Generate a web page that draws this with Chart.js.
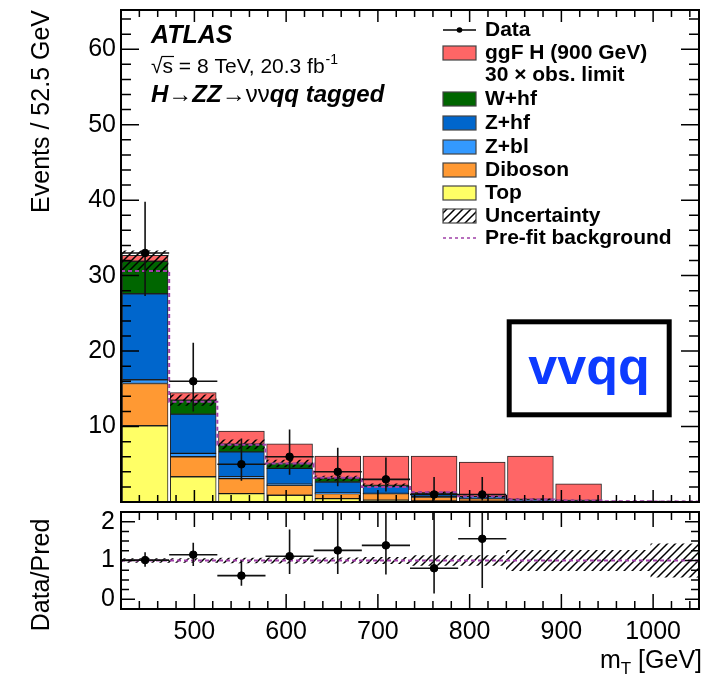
<!DOCTYPE html>
<html>
<head>
<meta charset="utf-8">
<script src="https://cdn.jsdelivr.net/npm/chart.js@4.4.0/dist/chart.umd.min.js"></script>
<style>
  html, body { margin: 0; padding: 0; background: #fff; }
  #wrap { position: relative; width: 704px; height: 677px; }
  #main { position: absolute; left: 0; top: 0; }
  #ratio { position: absolute; left: 0; top: 507px; }
</style>
</head>
<body>
<div id="wrap">
  <canvas id="main" width="704" height="507"></canvas>
  <canvas id="ratio" width="704" height="170"></canvas>
</div>
<script>
// values (12 bins of 52.5 GeV)
const binEdges   = [420, 472.5, 525, 577.5, 630, 682.5, 735, 787.5, 840, 892.5, 945, 997.5, 1050];
const topBkg     = [10.1, 3.35, 1.1, 0.9, 0.45, 0.25, 0.15, 0.1, 0.05, 0.03, 0.02, 0.02];
const dibosonBkg = [5.6, 2.65, 2.0, 1.3, 0.65, 0.85, 0.5, 0.35, 0.15, 0.1, 0.05, 0.03];
const zblBkg     = [0.5, 0.45, 0.25, 0.15, 0.1, 0.05, 0.05, 0.02, 0.02, 0.01, 0.01, 0.01];
const zhfBkg     = [11.4, 5.2, 3.3, 2.1, 1.45, 0.95, 0.45, 0.2, 0.1, 0.05, 0.02, 0.02];
const whfBkg     = [4.3, 1.85, 1.0, 0.65, 0.5, 0.1, 0.05, 0.03, 0.02, 0.01, 0, 0];
const ggfSignal  = [0.8, 1.0, 1.75, 2.6, 2.95, 3.9, 4.9, 4.6, 5.75, 2.2, 0, 0];
const bkgUnc     = [1.4, 0.7, 0.6, 0.45, 0.3, 0.2, 0.15, 0.09, 0.09, 0.05, 0.03, 0.04];
const prefitBkg  = [30.6, 13.3, 7.6, 5.1, 3.2, 2.0, 1.3, 0.77, 0.33, 0.2, 0.1, 0.08];

const dataCounts  = [33, 16, 5, 6, 4, 3, 1, 1, null, null, null, null];
const dataErrUp   = [6.8, 5.1, 3.4, 3.6, 3.2, 2.9, 2.3, 2.3, 0, 0, 0, 0];
const dataErrDown = [5.7, 4.0, 2.2, 2.4, 1.9, 1.6, 0.8, 0.8, 0, 0, 0, 0];

const ratioValues  = [1.01, 1.15, 0.61, 1.11, 1.26, 1.39, 0.8, 1.56, null, null, null, null];
const ratioErrUp   = [0.2, 0.31, 0.39, 0.69, 1.0, 1.35, 1.85, 3.6, 0, 0, 0, 0];
const ratioErrDown = [0.17, 0.29, 0.26, 0.46, 0.61, 0.75, 0.65, 1.27, 0, 0, 0, 0];
const ratioUnc     = [0.05, 0.05, 0.06, 0.07, 0.07, 0.08, 0.13, 0.13, 0.26, 0.26, 0.26, 0.43];
const ratioPrefit  = [1, 1, 1, 1, 1, 1, 1, 1, 1, 1, 1, 1];

const xTickValues      = [500, 600, 700, 800, 900, 1000];
const mainYTickValues  = [10, 20, 30, 40, 50, 60];
const ratioYTickValues = [0, 1, 2];

const FONT = '"Liberation Sans", Arial, Helvetica, sans-serif';
const centers = binEdges.slice(0, -1).map((e, i) => (e + binEdges[i + 1]) / 2);

// diagonal hatch like ROOT fill style 3354
const hatch = (() => {
  const c = document.createElement('canvas');
  c.width = 8; c.height = 8;
  const g = c.getContext('2d');
  g.strokeStyle = '#000';
  g.lineWidth = 1.5;
  g.beginPath();
  g.moveTo(-1, 9); g.lineTo(9, -1);
  g.moveTo(-1, 1); g.lineTo(1, -1);
  g.moveTo(7, 9); g.lineTo(9, 7);
  g.stroke();
  return g.createPattern(c, 'repeat');
})();

// stack the components myself and draw them as floating bars
const layers = [
  { label: 'Top', vals: topBkg, color: '#ffff66' },
  { label: 'Diboson', vals: dibosonBkg, color: '#ff9933' },
  { label: 'Z+bl', vals: zblBkg, color: '#3399ff' },
  { label: 'Z+hf', vals: zhfBkg, color: '#0066cc' },
  { label: 'W+hf', vals: whfBkg, color: '#006600' },
  { label: 'ggF H', vals: ggfSignal, color: '#ff6666' }
];
let running = centers.map(() => 0);
const stackSets = layers.map(l => {
  const lo = running;
  const hi = lo.map((v, i) => v + l.vals[i]);
  running = hi;
  return {
    type: 'bar',
    label: l.label,
    data: centers.map((c, i) => ({ x: c, y: hi[i] - lo[i] > 0 ? [lo[i], hi[i]] : null })),
    backgroundColor: l.color,
    borderColor: 'rgba(0,0,0,0.85)',
    borderWidth: 1,
    borderSkipped: false
  };
});
const bkgTotal = centers.map((c, i) => topBkg[i] + dibosonBkg[i] + zblBkg[i] + zhfBkg[i] + whfBkg[i]);

function errorSegments(vals, up, down) {
  const pts = [];
  vals.forEach((v, i) => {
    if (v === null) return;
    pts.push({ x: binEdges[i], y: v }, { x: binEdges[i + 1], y: v }, { x: centers[i], y: null });
    pts.push({ x: centers[i], y: v - down[i] }, { x: centers[i], y: v + up[i] }, { x: centers[i], y: null });
  });
  return pts;
}

function stepPoints(vals) {
  const pts = vals.map((v, i) => ({ x: binEdges[i], y: v }));
  pts.push({ x: binEdges[binEdges.length - 1], y: vals[vals.length - 1] });
  return pts;
}

// keep axis boxes from adding label overflow padding
function noPad(s) {
  s.paddingTop = 0; s.paddingBottom = 0; s.paddingLeft = 0; s.paddingRight = 0;
}

// ROOT style frame with inward ticks on all four sides
const rootFrame = {
  id: 'rootFrame',
  afterDatasetsDraw(chart, args, o) {
    const { ctx, chartArea: a, scales: { x, y } } = chart;
    ctx.save();
    ctx.strokeStyle = '#000';
    ctx.lineWidth = 1.5;
    ctx.beginPath();
    const nx = Math.round((x.max - x.min) / o.xMinor);
    const x0 = Math.ceil(x.min / o.xMinor) * o.xMinor;
    for (let k = 0; k <= nx; k++) {
      const v = x0 + k * o.xMinor;
      if (v > x.max) break;
      const px = x.getPixelForValue(v);
      const len = (Math.abs(v % o.xMajor) < 1e-6) ? o.xMajorLen : o.xMinorLen;
      ctx.moveTo(px, a.bottom); ctx.lineTo(px, a.bottom - len);
      ctx.moveTo(px, a.top); ctx.lineTo(px, a.top + len);
    }
    const ny = Math.round((y.max - y.min) / o.yMinor) + 1;
    const y0 = Math.ceil(y.min / o.yMinor) * o.yMinor;
    for (let k = 0; k <= ny; k++) {
      const v = y0 + k * o.yMinor;
      if (v > y.max) break;
      const py = y.getPixelForValue(v);
      const r = v / o.yMajor;
      const len = (Math.abs(r - Math.round(r)) < 1e-6) ? o.yMajorLen : o.yMinorLen;
      ctx.moveTo(a.left, py); ctx.lineTo(a.left + len, py);
      ctx.moveTo(a.right, py); ctx.lineTo(a.right - len, py);
    }
    ctx.stroke();
    ctx.lineWidth = 2;
    ctx.strokeRect(a.left, a.top, a.right - a.left, a.bottom - a.top);
    ctx.restore();
  }
};

// draws a run of [text, font, dy] pieces, returns end x
function drawRun(ctx, x, y, pieces) {
  pieces.forEach(([t, f, dy]) => {
    ctx.font = f;
    ctx.fillText(t, x, y + (dy || 0));
    x += ctx.measureText(t).width;
  });
  return x;
}

const mainDecor = {
  id: 'mainDecor',
  afterDraw(chart) {
    const ctx = chart.ctx;
    ctx.save();
    ctx.fillStyle = '#000';
    ctx.strokeStyle = '#000';
    ctx.textBaseline = 'alphabetic';
    ctx.textAlign = 'left';

    ctx.font = 'italic bold 25px ' + FONT;
    ctx.fillText('ATLAS', 151, 43);

    // sqrt(s) = 8 TeV, 20.3 fb-1
    ctx.font = '21px ' + FONT;
    ctx.fillText('\u221A', 151, 73);
    const sx = 151 + ctx.measureText('\u221A').width;
    ctx.fillText('s', sx, 73);
    const sw = ctx.measureText('s').width;
    ctx.lineWidth = 1.2;
    ctx.beginPath(); ctx.moveTo(sx - 1, 56.5); ctx.lineTo(sx + sw + 1, 56.5); ctx.stroke();
    const ex = drawRun(ctx, sx + sw, 73, [[' = 8 TeV, 20.3 fb', '21px ' + FONT]]);
    drawRun(ctx, ex + 1, 73, [['-1', '14px ' + FONT, -9]]);

    const bi = 'italic bold 24px ' + FONT, rg = '24px ' + FONT;
    drawRun(ctx, 151, 102, [['H', bi], ['\u2192', rg], ['ZZ', bi], ['\u2192', rg], ['\u03BD\u03BD', rg], ['qq tagged', bi]]);

    // legend
    const bx = 443, bw = 33, bh = 14, tx = 485;
    ctx.font = 'bold 21px ' + FONT;
    ctx.textBaseline = 'middle';
    const rows = [
      { y: 30, text: 'Data', kind: 'data' },
      { y: 53, text: 'ggF H (900 GeV)', kind: 'box', color: '#ff6666' },
      { y: 75, text: '30 \u00D7 obs. limit', kind: 'none' },
      { y: 99, text: 'W+hf', kind: 'box', color: '#006600' },
      { y: 123, text: 'Z+hf', kind: 'box', color: '#0066cc' },
      { y: 147, text: 'Z+bl', kind: 'box', color: '#3399ff' },
      { y: 170, text: 'Diboson', kind: 'box', color: '#ff9933' },
      { y: 193, text: 'Top', kind: 'box', color: '#ffff66' },
      { y: 216, text: 'Uncertainty', kind: 'box', color: hatch },
      { y: 238, text: 'Pre-fit background', kind: 'dash' }
    ];
    rows.forEach(r => {
      ctx.fillStyle = '#000';
      ctx.fillText(r.text, tx, r.y);
      if (r.kind === 'box') {
        ctx.fillStyle = r.color;
        ctx.fillRect(bx, r.y - bh / 2, bw, bh);
        ctx.strokeStyle = '#444';
        ctx.lineWidth = 1.2;
        ctx.strokeRect(bx, r.y - bh / 2, bw, bh);
      } else if (r.kind === 'data') {
        ctx.strokeStyle = '#000';
        ctx.lineWidth = 1.5;
        ctx.beginPath(); ctx.moveTo(bx, r.y); ctx.lineTo(bx + bw, r.y); ctx.stroke();
        ctx.fillStyle = '#000';
        ctx.beginPath(); ctx.arc(bx + bw / 2, r.y, 2.8, 0, Math.PI * 2); ctx.fill();
      } else if (r.kind === 'dash') {
        ctx.strokeStyle = '#a040a8';
        ctx.lineWidth = 1.5;
        ctx.setLineDash([3, 3]);
        ctx.beginPath(); ctx.moveTo(bx, r.y); ctx.lineTo(bx + bw, r.y); ctx.stroke();
        ctx.setLineDash([]);
      }
    });

    // channel box
    ctx.strokeStyle = '#000';
    ctx.lineWidth = 5;
    ctx.strokeRect(509.2, 321.8, 160, 93);
    ctx.fillStyle = '#0d3bff';
    ctx.font = 'bold 52px ' + FONT;
    ctx.textAlign = 'center';
    ctx.textBaseline = 'alphabetic';
    ctx.fillText('vvqq', 589, 384);
    ctx.restore();
  }
};

const ratioDecor = {
  id: 'ratioDecor',
  afterDraw(chart) {
    const ctx = chart.ctx;
    ctx.save();
    ctx.fillStyle = '#000';
    ctx.textBaseline = 'alphabetic';
    // x title with subscript, right aligned at the frame edge
    ctx.font = '25px ' + FONT;
    const w1 = ctx.measureText('m').width, w3 = ctx.measureText(' [GeV]').width;
    ctx.font = '17px ' + FONT;
    const w2 = ctx.measureText('T').width;
    const x = 702 - (w1 + w2 + w3);
    drawRun(ctx, x, 161, [['m', '25px ' + FONT], ['T', '17px ' + FONT, 6], [' [GeV]', '25px ' + FONT]]);
    // y title
    ctx.translate(42, 68);
    ctx.rotate(-Math.PI / 2);
    ctx.textAlign = 'center';
    ctx.textBaseline = 'middle';
    ctx.font = '25px ' + FONT;
    ctx.fillText('Data/Pred', 0, 0);
    ctx.restore();
  }
};

Chart.defaults.font.family = FONT;

const tickFont = { family: FONT, size: 25 };

new Chart(document.getElementById('main'), {
  type: 'bar',
  data: {
    datasets: [
      {
        type: 'line', label: 'Data', showLine: false,
        data: centers.map((c, i) => ({ x: c, y: dataCounts[i] })),
        pointRadius: 3.8, pointBackgroundColor: '#000', pointBorderColor: '#000'
      },
      {
        type: 'line', label: 'Data errors',
        data: errorSegments(dataCounts, dataErrUp, dataErrDown),
        borderColor: '#111', borderWidth: 1.6, pointRadius: 0, spanGaps: false
      },
      {
        type: 'line', label: 'Pre-fit background',
        data: stepPoints(prefitBkg), stepped: 'before',
        borderColor: '#a040a8', borderWidth: 2, borderDash: [4, 3], pointRadius: 0
      },
      {
        type: 'bar', label: 'Uncertainty',
        data: centers.map((c, i) => ({ x: c, y: [bkgTotal[i] - bkgUnc[i], bkgTotal[i] + bkgUnc[i]] })),
        backgroundColor: hatch, borderWidth: 0
      },
      ...stackSets.reverse()
    ]
  },
  options: {
    responsive: false,
    animation: false,
    layout: { padding: { top: 10, right: 2, bottom: 3, left: 0 } },
    datasets: { bar: { grouped: false, barPercentage: 1, categoryPercentage: 1 } },
    plugins: {
      legend: { display: false },
      tooltip: { enabled: false },
      rootFrame: { xMajor: 100, xMinor: 20, xMajorLen: 12, xMinorLen: 7, yMajor: 10, yMinor: 2, yMajorLen: 18, yMinorLen: 10 }
    },
    scales: {
      x: { type: 'linear', min: 420, max: 1050, offset: false, display: false, afterFit: noPad },
      y: {
        min: 0, max: 65.2,
        afterFit: s => { s.width = 121; noPad(s); },
        afterBuildTicks: s => { s.ticks = mainYTickValues.map(v => ({ value: v })); },
        grid: { display: false, drawTicks: false },
        border: { display: false },
        ticks: { color: '#000', font: tickFont, padding: 5 },
        title: {
          display: true, text: 'Events / 52.5 GeV', align: 'end', color: '#000',
          font: { family: FONT, size: 25 }, padding: { top: 27, bottom: 0 }
        }
      }
    }
  },
  plugins: [rootFrame, mainDecor]
});

new Chart(document.getElementById('ratio'), {
  type: 'bar',
  data: {
    datasets: [
      {
        type: 'line', label: 'Ratio', showLine: false,
        data: centers.map((c, i) => ({ x: c, y: ratioValues[i] })),
        pointRadius: 3.8, pointBackgroundColor: '#000', pointBorderColor: '#000'
      },
      {
        type: 'line', label: 'Ratio errors',
        data: errorSegments(ratioValues, ratioErrUp, ratioErrDown),
        borderColor: '#111', borderWidth: 1.6, pointRadius: 0, spanGaps: false
      },
      {
        type: 'line', label: 'Pre-fit ratio',
        data: stepPoints(ratioPrefit), stepped: 'before',
        borderColor: '#a040a8', borderWidth: 2, borderDash: [4, 3], pointRadius: 0
      },
      {
        type: 'bar', label: 'Uncertainty',
        data: centers.map((c, i) => ({ x: c, y: [1 - ratioUnc[i], 1 + ratioUnc[i]] })),
        backgroundColor: hatch, borderWidth: 0
      }
    ]
  },
  options: {
    responsive: false,
    animation: false,
    layout: { padding: { top: 5, right: 2, bottom: 0, left: 0 } },
    datasets: { bar: { grouped: false, barPercentage: 1, categoryPercentage: 1 } },
    plugins: {
      legend: { display: false },
      tooltip: { enabled: false },
      rootFrame: { xMajor: 100, xMinor: 20, xMajorLen: 15, xMinorLen: 8, yMajor: 1, yMinor: 0.25, yMajorLen: 14, yMinorLen: 8 }
    },
    scales: {
      x: {
        type: 'linear', min: 420, max: 1050, offset: false,
        afterFit: s => { s.height = 68; noPad(s); },
        afterBuildTicks: s => { s.ticks = xTickValues.map(v => ({ value: v })); },
        grid: { display: false, drawTicks: false },
        border: { display: false },
        ticks: { color: '#000', font: tickFont, padding: 8, maxRotation: 0, autoSkip: false, callback: v => String(v) }
      },
      y: {
        min: -0.25, max: 2.25,
        afterFit: s => { s.width = 121; noPad(s); },
        afterBuildTicks: s => { s.ticks = ratioYTickValues.map(v => ({ value: v })); },
        grid: { display: false, drawTicks: false },
        border: { display: false },
        ticks: { color: '#000', font: tickFont, padding: 6 }
      }
    }
  },
  plugins: [rootFrame, ratioDecor]
});
</script>
</body>
</html>
